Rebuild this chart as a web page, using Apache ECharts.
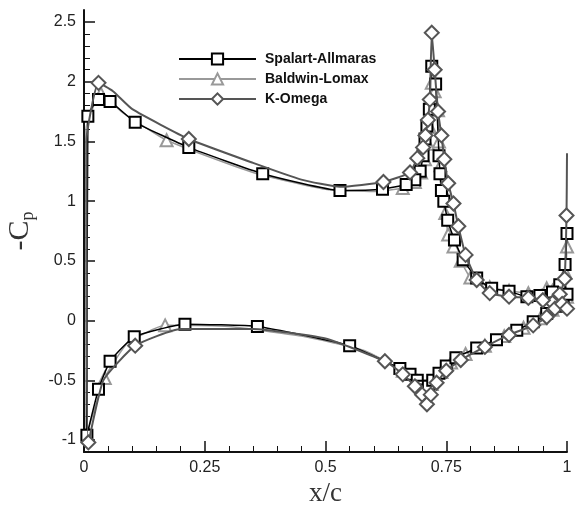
<!DOCTYPE html>
<html>
<head>
<meta charset="utf-8">
<script src="https://cdn.jsdelivr.net/npm/echarts@6/dist/echarts.min.js"></script>
<style>html,body{margin:0;padding:0;background:#fff}#c{width:580px;height:505px}</style>
</head>
<body>
<div id="c"></div>
<script>
// Spalart-Allmaras: upper surface (TE -> LE) then lower surface (LE -> TE)
const saX = [1.0,0.996,0.985,0.97,0.944,0.917,0.88,0.844,0.813,0.785,0.767,0.753,0.745,0.74,0.737,0.735,0.728,0.72,0.715,0.71,0.706,0.702,0.696,0.685,0.667,0.618,0.53,0.37,0.217,0.106,0.054,0.03,0.008,
             0.006,0.03,0.054,0.104,0.209,0.359,0.55,0.654,0.675,0.69,0.70,0.706,0.713,0.722,0.735,0.75,0.77,0.813,0.854,0.896,0.93,0.958,0.978,0.992,1.0];
const saY = [0.73,0.47,0.3,0.24,0.21,0.2,0.245,0.27,0.356,0.51,0.675,0.84,1.0,1.09,1.23,1.38,1.98,2.13,1.77,1.63,1.52,1.38,1.25,1.18,1.14,1.10,1.09,1.23,1.45,1.66,1.835,1.85,1.71,
             -0.96,-0.575,-0.34,-0.136,-0.03,-0.05,-0.21,-0.40,-0.45,-0.50,-0.55,-0.58,-0.55,-0.50,-0.44,-0.38,-0.31,-0.23,-0.16,-0.08,-0.01,0.06,0.12,0.18,0.22];
const saNoMarker = [];
// Baldwin-Lomax
const blX = [1.0,0.997,0.99,0.97,0.958,0.92,0.88,0.84,0.80,0.78,0.765,0.754,0.748,0.742,0.738,0.735,0.733,0.726,0.72,0.716,0.712,0.706,0.698,0.685,0.66,0.6,0.5,0.35,0.171,0.08,0.035,0.004,
             0.004,0.043,0.09,0.168,0.3,0.45,0.58,0.66,0.69,0.705,0.712,0.72,0.74,0.76,0.79,0.83,0.87,0.91,0.945,0.97,0.99,1.0];
const blY = [0.62,0.40,0.29,0.25,0.27,0.23,0.25,0.28,0.36,0.50,0.62,0.72,0.9,1.1,1.3,1.5,1.76,1.92,1.99,1.62,1.48,1.35,1.24,1.16,1.11,1.08,1.10,1.24,1.51,1.74,1.9,1.6,
             -0.98,-0.48,-0.19,-0.04,-0.05,-0.13,-0.25,-0.42,-0.51,-0.58,-0.60,-0.53,-0.43,-0.35,-0.28,-0.21,-0.13,-0.06,0.02,0.09,0.15,0.2];
const blNoMarker = [25,26,27,29,31,32,34,36,37,38];
// K-Omega
const koX = [1.0,0.999,0.995,0.985,0.97,0.95,0.92,0.88,0.84,0.813,0.79,0.775,0.765,0.754,0.746,0.74,0.733,0.726,0.72,0.716,0.712,0.707,0.702,0.69,0.675,0.62,0.53,0.45,0.35,0.217,0.1,0.06,0.03,0.005,
             0.009,0.04,0.106,0.2,0.35,0.5,0.623,0.66,0.685,0.7,0.71,0.718,0.73,0.75,0.78,0.83,0.88,0.93,0.958,0.975,0.99,1.0];
const koY = [1.4,0.88,0.35,0.22,0.15,0.17,0.19,0.2,0.23,0.34,0.55,0.79,0.98,1.15,1.35,1.55,1.75,2.1,2.41,1.85,1.68,1.55,1.45,1.36,1.24,1.16,1.12,1.18,1.32,1.52,1.77,1.92,1.99,1.5,
             -1.02,-0.5,-0.21,-0.07,-0.07,-0.15,-0.34,-0.45,-0.55,-0.62,-0.70,-0.62,-0.52,-0.42,-0.33,-0.22,-0.12,-0.04,0.03,0.1,0.14,0.1];
const koNoMarker = [0,26,27,28,30,31,33,35,37,38,39];

const seriesNames = ['Spalart-Allmaras','Baldwin-Lomax','K-Omega'];
const xTicks = [0,0.25,0.5,0.75,1];
const yTicks = [-1,-0.5,0,0.5,1,1.5,2,2.5];

const yMinor = [];
for (let i = -10; i <= 25; i++) { if (i % 5 !== 0) yMinor.push(i / 10); }

function pts(xs, ys, hide) {
  return xs.map((x, i) => {
    const d = { value: [x, ys[i]] };
    if (hide.indexOf(i) >= 0) d.symbol = 'none';
    return d;
  });
}

const chart = echarts.init(document.getElementById('c'));
const axisCol = '#111';
chart.setOption({
  backgroundColor: '#fff',
  animation: false,
  grid: { left: 84, right: 13, top: 10, bottom: 53, containLabel: false, outerBoundsMode: 'none' },
  legend: {
    orient: 'vertical', left: 173, top: 47, itemWidth: 77, itemHeight: 14, itemGap: 6,
    data: seriesNames,
    textStyle: { fontFamily: 'Liberation Sans', fontWeight: 'bold', fontSize: 14, color: '#111', padding: [0,0,0,4] }
  },
  xAxis: {
    type: 'value', min: 0, max: 1, interval: 0.25,
    name: 'x/c', nameLocation: 'middle', nameGap: 27,
    nameTextStyle: { fontFamily: 'Liberation Serif', fontSize: 27, color: '#333' },
    axisLine: { onZero: false, lineStyle: { color: axisCol, width: 2 } },
    axisTick: { inside: true, length: 11, lineStyle: { color: axisCol, width: 1.5 } },
    minorTick: { show: true, splitNumber: 5, length: 6, lineStyle: { color: axisCol, width: 1 } },
    axisLabel: { margin: 8, fontFamily: 'Liberation Sans', fontSize: 16, color: '#222',
      customValues: xTicks },
    splitLine: { show: false }
  },
  yAxis: [{
    type: 'value', min: -1.1, max: 2.6,
    name: '{m|-C}{s|p}', nameLocation: 'middle', nameGap: 46, nameRotate: 90,
    nameTextStyle: { color: '#333', rich: {
      m: { fontFamily: 'Liberation Serif', fontSize: 30, color: '#333' },
      s: { fontFamily: 'Liberation Serif', fontSize: 18, color: '#333', padding: [16,0,0,0] }
    } },
    axisLine: { show: true, onZero: false, lineStyle: { color: axisCol, width: 2 } },
    axisTick: { inside: true, length: 11, customValues: yTicks, lineStyle: { color: axisCol, width: 1.5 } },
    axisLabel: { margin: 8, fontFamily: 'Liberation Sans', fontSize: 16, color: '#222', customValues: yTicks },
    splitLine: { show: false }
  }, {
    type: 'value', min: -1.1, max: 2.6, position: 'left',
    axisLine: { show: false, onZero: false },
    axisTick: { show: true, inside: true, length: 6, customValues: yMinor, lineStyle: { color: axisCol, width: 1 } },
    axisLabel: { show: false },
    splitLine: { show: false }
  }],
  series: [
    { name: seriesNames[0], type: 'line', data: pts(saX, saY, saNoMarker), smooth: 0.15,
      symbol: 'emptyRect', symbolSize: 11, color: '#000',
      lineStyle: { color: '#000', width: 1.5 }, itemStyle: { color: '#000', borderWidth: 1.5 }, z: 3 },
    { name: seriesNames[1], type: 'line', data: pts(blX, blY, blNoMarker), smooth: 0.15,
      symbol: 'emptyTriangle', symbolSize: 12, color: '#999',
      lineStyle: { color: '#999', width: 1.5 }, itemStyle: { color: '#999', borderWidth: 1.5 }, z: 2 },
    { name: seriesNames[2], type: 'line', data: pts(koX, koY, koNoMarker), smooth: 0.15,
      symbol: 'emptyDiamond', symbolSize: 14, color: '#555',
      lineStyle: { color: '#555', width: 2 }, itemStyle: { color: '#555', borderWidth: 1.5 }, z: 4 }
  ]
});
</script>
</body>
</html>
